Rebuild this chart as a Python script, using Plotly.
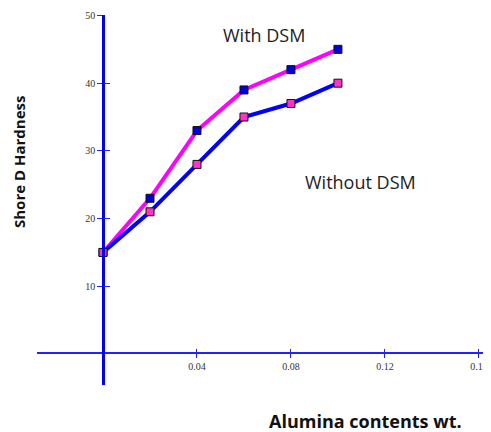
import plotly.graph_objects as go

alumina = [0, 0.02, 0.04, 0.06, 0.08, 0.10]
with_dsm = [15, 23, 33, 39, 42, 45]
without_dsm = [15, 21, 28, 35, 37, 40]
x_ticks = [0.04, 0.08, 0.12, 0.16]
x_tick_text = ["0.04", "0.08", "0.12", "0.16"]
y_ticks = [10, 20, 30, 40, 50]
y_tick_text = ["10", "20", "30", "40", "50"]

# page has an 8px body margin; work in page pixels, shift by O
O = 8
W, H = 491 - O, 432 - O
L, R, T, B = 37 - O, 6, 15 - O, 47
PW, PH = W - L - R, H - T - B


def px(xp):
    return (xp - O - L) / PW


def py(yp):
    return (H - B - (yp - O)) / PH


xr = [-0.0281, 0.1626]
yr = [-4.58, 50.07]
ypos = px(103)
xpos = py(353)

fig = go.Figure()
fig.add_trace(go.Scatter(x=alumina, y=with_dsm, mode="lines+markers",
                         line=dict(color="#FF00FF", width=4),
                         marker=dict(symbol="square", size=8, color="#0000DD",
                                     line=dict(color="#111111", width=1)),
                         showlegend=False))
fig.add_trace(go.Scatter(x=alumina, y=without_dsm, mode="lines+markers",
                         line=dict(color="#0000FF", width=4),
                         marker=dict(symbol="square", size=8, color="#FF33CC",
                                     line=dict(color="#111111", width=1)),
                         showlegend=False))

tickfont = dict(family="Liberation Serif, Times New Roman, serif", size=10, color="#333333")
fig.update_layout(
    width=W, height=H, margin=dict(l=L, r=R, t=T, b=B, autoexpand=False),
    paper_bgcolor="white", plot_bgcolor="white",
    xaxis=dict(range=xr, showgrid=False, zeroline=False, showline=True, automargin=False,
               linecolor="#2222FF", linewidth=1.5, anchor="free", position=xpos,
               tickvals=x_ticks, ticktext=x_tick_text, ticks="outside",
               ticklen=4, tickcolor="#2222FF", tickwidth=1, tickfont=tickfont),
    yaxis=dict(range=yr, showgrid=False, zeroline=False, showline=True, automargin=False,
               linecolor="#0000FF", linewidth=2.5, anchor="free", position=ypos,
               tickvals=y_ticks, ticktext=y_tick_text, ticks="outside",
               ticklen=5, tickcolor="#2222FF", tickwidth=1, tickfont=tickfont),
    xaxis2=dict(range=xr, overlaying="x", showgrid=False, zeroline=False, automargin=False,
                showline=False, anchor="free", position=xpos, tickvals=x_ticks,
                ticks="inside", ticklen=4, tickcolor="#2222FF", showticklabels=False),
    yaxis2=dict(range=yr, overlaying="y", showgrid=False, zeroline=False, automargin=False,
                showline=False, anchor="free", position=ypos, tickvals=y_ticks,
                ticks="inside", ticklen=6, tickcolor="#2222FF", showticklabels=False),
)
fig.add_trace(go.Scatter(x=[None], y=[None], xaxis="x2", yaxis="y2", showlegend=False))

labfont = dict(family="Open Sans, Noto Sans, sans-serif", size=18, color="#222222")
fig.add_annotation(text="With DSM", xref="paper", yref="paper", x=px(264), y=py(35),
                   xanchor="center", yanchor="middle", showarrow=False, font=labfont)
fig.add_annotation(text="Without DSM", xref="paper", yref="paper", x=px(360), y=py(182),
                   xanchor="center", yanchor="middle", showarrow=False, font=labfont)
fig.add_annotation(text="<b>Shore D Hardness</b>", xref="paper", yref="paper",
                   x=px(19), y=py(162), xanchor="center", yanchor="middle",
                   showarrow=False, textangle=-90,
                   font=dict(family="Open Sans, Noto Sans, sans-serif", size=15, color="#111111"))
fig.add_annotation(text="<b>Alumina contents wt.</b>", xref="paper", yref="paper",
                   x=px(365), y=py(421), xanchor="center", yanchor="middle", showarrow=False,
                   font=dict(family="Open Sans, Noto Sans, sans-serif", size=18, color="#111111"))

fig.write_html("out.html")
